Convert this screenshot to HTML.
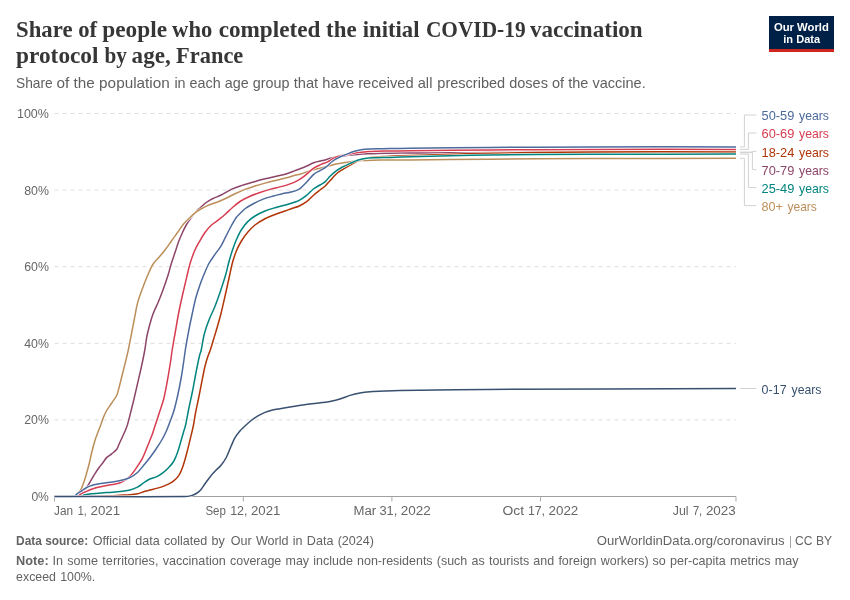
<!DOCTYPE html>
<html lang="en"><head><meta charset="utf-8"><title>Share of people who completed the initial COVID-19 vaccination protocol by age, France</title>
<style>html,body{margin:0;padding:0;background:#fff}svg{display:block}text{white-space:pre}</style></head>
<body><svg width="850" height="600" viewBox="0 0 850 600">
<rect width="850" height="600" fill="#fff"/>
<line x1="54.5" x2="736" y1="113.5" y2="113.5" stroke="#ddd" stroke-width="1" stroke-dasharray="4,4"/>
<line x1="54.5" x2="736" y1="190.1" y2="190.1" stroke="#ddd" stroke-width="1" stroke-dasharray="4,4"/>
<line x1="54.5" x2="736" y1="266.7" y2="266.7" stroke="#ddd" stroke-width="1" stroke-dasharray="4,4"/>
<line x1="54.5" x2="736" y1="343.3" y2="343.3" stroke="#ddd" stroke-width="1" stroke-dasharray="4,4"/>
<line x1="54.5" x2="736" y1="419.9" y2="419.9" stroke="#ddd" stroke-width="1" stroke-dasharray="4,4"/>
<line x1="54.5" x2="736" y1="496.5" y2="496.5" stroke="#a0a0a0" stroke-width="1"/>
<line x1="54.5" x2="54.5" y1="496.5" y2="501.5" stroke="#aaa" stroke-width="1"/>
<line x1="243.3" x2="243.3" y1="496.5" y2="501.5" stroke="#aaa" stroke-width="1"/>
<line x1="391.9" x2="391.9" y1="496.5" y2="501.5" stroke="#aaa" stroke-width="1"/>
<line x1="540.5" x2="540.5" y1="496.5" y2="501.5" stroke="#aaa" stroke-width="1"/>
<line x1="736" x2="736" y1="496.5" y2="501.5" stroke="#aaa" stroke-width="1"/>
<text x="48.9" y="117.9" font-size="13.7" fill="#666" font-family='"Liberation Sans", sans-serif' text-anchor="end" textLength="31.9" lengthAdjust="spacingAndGlyphs">100%</text>
<text x="48.9" y="194.5" font-size="13.7" fill="#666" font-family='"Liberation Sans", sans-serif' text-anchor="end" textLength="24.7" lengthAdjust="spacingAndGlyphs">80%</text>
<text x="48.9" y="271.09999999999997" font-size="13.7" fill="#666" font-family='"Liberation Sans", sans-serif' text-anchor="end" textLength="24.7" lengthAdjust="spacingAndGlyphs">60%</text>
<text x="48.9" y="347.7" font-size="13.7" fill="#666" font-family='"Liberation Sans", sans-serif' text-anchor="end" textLength="24.7" lengthAdjust="spacingAndGlyphs">40%</text>
<text x="48.9" y="424.29999999999995" font-size="13.7" fill="#666" font-family='"Liberation Sans", sans-serif' text-anchor="end" textLength="24.7" lengthAdjust="spacingAndGlyphs">20%</text>
<text x="48.9" y="500.9" font-size="13.7" fill="#666" font-family='"Liberation Sans", sans-serif' text-anchor="end" textLength="17.5" lengthAdjust="spacingAndGlyphs">0%</text>
<text y="514.8" font-size="13.7" fill="#666" font-family='"Liberation Sans", sans-serif'><tspan x="54.0" textLength="19.0" lengthAdjust="spacingAndGlyphs">Jan</tspan> <tspan x="77.8" textLength="8.9" lengthAdjust="spacingAndGlyphs">1,</tspan> <tspan x="90.5" textLength="29.6" lengthAdjust="spacingAndGlyphs">2021</tspan></text><text y="514.8" font-size="13.7" fill="#666" font-family='"Liberation Sans", sans-serif'><tspan x="205.4" textLength="20.5" lengthAdjust="spacingAndGlyphs">Sep</tspan> <tspan x="230.2" textLength="17.3" lengthAdjust="spacingAndGlyphs">12,</tspan> <tspan x="251.0" textLength="29.4" lengthAdjust="spacingAndGlyphs">2021</tspan></text><text y="514.8" font-size="13.7" fill="#666" font-family='"Liberation Sans", sans-serif'><tspan x="353.6" textLength="22.6" lengthAdjust="spacingAndGlyphs">Mar</tspan> <tspan x="379.4" textLength="17.9" lengthAdjust="spacingAndGlyphs">31,</tspan> <tspan x="400.7" textLength="30.0" lengthAdjust="spacingAndGlyphs">2022</tspan></text><text y="514.8" font-size="13.7" fill="#666" font-family='"Liberation Sans", sans-serif'><tspan x="502.4" textLength="21.6" lengthAdjust="spacingAndGlyphs">Oct</tspan> <tspan x="527.9" textLength="17.1" lengthAdjust="spacingAndGlyphs">17,</tspan> <tspan x="548.5" textLength="29.8" lengthAdjust="spacingAndGlyphs">2022</tspan></text><text y="514.8" font-size="13.7" fill="#666" font-family='"Liberation Sans", sans-serif'><tspan x="672.8" textLength="15.8" lengthAdjust="spacingAndGlyphs">Jul</tspan> <tspan x="692.9" textLength="9.3" lengthAdjust="spacingAndGlyphs">7,</tspan> <tspan x="705.9" textLength="29.9" lengthAdjust="spacingAndGlyphs">2023</tspan></text>
<path d="M54.50,496.50C61.17,496.43 67.83,496.97 74.50,496.30C75.17,496.23 75.83,494.80 76.50,494.30C78.40,492.87 80.30,491.90 82.20,490.50C83.87,489.27 85.53,488.40 87.20,486.40C88.70,484.60 90.20,481.56 91.70,479.10C92.97,477.02 94.23,474.76 95.50,472.80C96.83,470.73 98.17,468.82 99.50,467.00C100.80,465.22 102.10,463.72 103.40,462.00C104.47,460.59 105.53,458.65 106.60,457.60C108.30,455.92 110.00,455.18 111.70,453.80C113.40,452.42 115.10,451.58 116.80,449.30C117.63,448.18 118.47,445.44 119.30,443.60C120.37,441.24 121.43,439.05 122.50,436.70C123.53,434.42 124.57,432.20 125.60,429.70C126.23,428.17 126.87,426.72 127.50,424.60C128.33,421.82 129.17,418.28 130.00,415.00C131.25,410.08 132.50,405.21 133.75,400.00C135.00,394.79 136.25,389.17 137.50,383.75C138.75,378.33 140.00,373.28 141.25,367.50C142.43,362.03 143.62,356.54 144.80,350.00C145.50,346.13 146.20,339.78 146.90,336.25C147.93,331.03 148.97,327.50 150.00,323.75C151.03,320.00 152.07,316.46 153.10,313.75C154.77,309.38 156.43,306.49 158.10,302.50C159.57,298.99 161.03,295.28 162.50,291.25C164.37,286.12 166.23,280.87 168.10,275.00C169.15,271.70 170.20,267.17 171.25,263.75C172.50,259.67 173.75,256.25 175.00,252.50C176.25,248.75 177.50,244.58 178.75,241.25C180.00,237.92 181.25,235.21 182.50,232.50C183.75,229.79 185.00,227.14 186.25,225.00C187.92,222.14 189.58,219.72 191.25,217.50C193.33,214.72 195.42,212.24 197.50,210.00C198.33,209.10 199.17,208.81 200.00,208.10C202.08,206.31 204.17,204.06 206.25,202.50C208.33,200.94 210.42,199.79 212.50,198.75C215.42,197.29 218.33,196.45 221.25,195.00C224.58,193.34 227.92,190.97 231.25,189.40C234.58,187.83 237.92,186.72 241.25,185.60C245.00,184.34 248.75,183.33 252.50,182.25C256.67,181.05 260.83,179.79 265.00,178.75C269.17,177.71 273.33,176.97 277.50,176.00C280.83,175.22 284.17,174.53 287.50,173.50C290.00,172.73 292.50,171.54 295.00,170.60C296.67,169.97 298.33,169.44 300.00,168.80C302.08,167.99 304.17,167.16 306.25,166.25C308.97,165.06 311.68,163.44 314.40,162.50C317.10,161.56 319.80,161.31 322.50,160.60C325.42,159.84 328.33,158.82 331.25,158.10C334.17,157.38 337.08,156.72 340.00,156.25C342.92,155.78 345.83,155.56 348.75,155.25C351.67,154.94 354.58,154.63 357.50,154.40C360.83,154.13 364.17,153.92 367.50,153.75C370.83,153.58 374.17,153.48 377.50,153.40C381.67,153.30 385.83,153.25 390.00,153.20C396.67,153.12 403.33,153.04 410.00,153.00C423.33,152.91 436.67,152.87 450.00,152.80C463.33,152.73 476.67,152.64 490.00,152.60C523.33,152.50 556.67,152.44 590.00,152.40C638.67,152.34 687.33,152.33 736.00,152.30" fill="none" stroke="#fff" stroke-width="2.5" stroke-linejoin="round" stroke-linecap="butt"/>
<path d="M54.50,496.50C61.17,496.43 67.83,496.97 74.50,496.30C75.17,496.23 75.83,494.80 76.50,494.30C78.40,492.87 80.30,491.90 82.20,490.50C83.87,489.27 85.53,488.40 87.20,486.40C88.70,484.60 90.20,481.56 91.70,479.10C92.97,477.02 94.23,474.76 95.50,472.80C96.83,470.73 98.17,468.82 99.50,467.00C100.80,465.22 102.10,463.72 103.40,462.00C104.47,460.59 105.53,458.65 106.60,457.60C108.30,455.92 110.00,455.18 111.70,453.80C113.40,452.42 115.10,451.58 116.80,449.30C117.63,448.18 118.47,445.44 119.30,443.60C120.37,441.24 121.43,439.05 122.50,436.70C123.53,434.42 124.57,432.20 125.60,429.70C126.23,428.17 126.87,426.72 127.50,424.60C128.33,421.82 129.17,418.28 130.00,415.00C131.25,410.08 132.50,405.21 133.75,400.00C135.00,394.79 136.25,389.17 137.50,383.75C138.75,378.33 140.00,373.28 141.25,367.50C142.43,362.03 143.62,356.54 144.80,350.00C145.50,346.13 146.20,339.78 146.90,336.25C147.93,331.03 148.97,327.50 150.00,323.75C151.03,320.00 152.07,316.46 153.10,313.75C154.77,309.38 156.43,306.49 158.10,302.50C159.57,298.99 161.03,295.28 162.50,291.25C164.37,286.12 166.23,280.87 168.10,275.00C169.15,271.70 170.20,267.17 171.25,263.75C172.50,259.67 173.75,256.25 175.00,252.50C176.25,248.75 177.50,244.58 178.75,241.25C180.00,237.92 181.25,235.21 182.50,232.50C183.75,229.79 185.00,227.14 186.25,225.00C187.92,222.14 189.58,219.72 191.25,217.50C193.33,214.72 195.42,212.24 197.50,210.00C198.33,209.10 199.17,208.81 200.00,208.10C202.08,206.31 204.17,204.06 206.25,202.50C208.33,200.94 210.42,199.79 212.50,198.75C215.42,197.29 218.33,196.45 221.25,195.00C224.58,193.34 227.92,190.97 231.25,189.40C234.58,187.83 237.92,186.72 241.25,185.60C245.00,184.34 248.75,183.33 252.50,182.25C256.67,181.05 260.83,179.79 265.00,178.75C269.17,177.71 273.33,176.97 277.50,176.00C280.83,175.22 284.17,174.53 287.50,173.50C290.00,172.73 292.50,171.54 295.00,170.60C296.67,169.97 298.33,169.44 300.00,168.80C302.08,167.99 304.17,167.16 306.25,166.25C308.97,165.06 311.68,163.44 314.40,162.50C317.10,161.56 319.80,161.31 322.50,160.60C325.42,159.84 328.33,158.82 331.25,158.10C334.17,157.38 337.08,156.72 340.00,156.25C342.92,155.78 345.83,155.56 348.75,155.25C351.67,154.94 354.58,154.63 357.50,154.40C360.83,154.13 364.17,153.92 367.50,153.75C370.83,153.58 374.17,153.48 377.50,153.40C381.67,153.30 385.83,153.25 390.00,153.20C396.67,153.12 403.33,153.04 410.00,153.00C423.33,152.91 436.67,152.87 450.00,152.80C463.33,152.73 476.67,152.64 490.00,152.60C523.33,152.50 556.67,152.44 590.00,152.40C638.67,152.34 687.33,152.33 736.00,152.30" fill="none" stroke="#8C4569" stroke-width="1.5" stroke-linejoin="round" stroke-linecap="butt"/>
<path d="M54.50,496.50C61.10,496.43 67.70,497.08 74.30,496.30C75.03,496.21 75.77,494.63 76.50,493.90C77.90,492.50 79.30,491.88 80.70,489.90C81.40,488.91 82.10,486.84 82.80,485.00C83.63,482.81 84.47,480.46 85.30,477.80C86.03,475.46 86.77,472.69 87.50,470.00C88.20,467.43 88.90,464.92 89.60,462.00C90.40,458.66 91.20,454.37 92.00,451.20C93.07,446.97 94.13,443.17 95.20,439.80C96.27,436.43 97.33,433.81 98.40,431.00C99.27,428.71 100.13,426.88 101.00,424.50C101.70,422.58 102.40,419.87 103.10,418.10C104.15,415.45 105.20,413.10 106.25,411.25C107.92,408.32 109.58,406.29 111.25,403.75C113.13,400.88 115.02,398.77 116.90,395.00C117.52,393.77 118.13,391.05 118.75,388.75C119.58,385.64 120.42,382.08 121.25,378.75C122.08,375.42 122.92,372.08 123.75,368.75C124.58,365.42 125.42,362.18 126.25,358.75C126.93,355.93 127.62,353.25 128.30,350.00C129.28,345.33 130.27,340.04 131.25,335.00C132.30,329.62 133.35,324.11 134.40,318.75C135.43,313.48 136.47,307.06 137.50,303.10C138.97,297.48 140.43,294.00 141.90,290.00C143.87,284.63 145.83,279.64 147.80,275.00C149.37,271.31 150.93,267.50 152.50,265.00C154.58,261.67 156.67,260.00 158.75,257.50C160.83,255.00 162.92,252.71 165.00,250.00C167.08,247.29 169.17,244.17 171.25,241.25C173.33,238.33 175.42,235.42 177.50,232.50C179.58,229.58 181.67,226.25 183.75,223.75C185.83,221.25 187.92,219.47 190.00,217.50C192.08,215.53 194.17,213.57 196.25,211.90C197.50,210.90 198.75,210.20 200.00,209.50C202.50,208.10 205.00,206.68 207.50,205.60C210.42,204.34 213.33,203.64 216.25,202.50C219.17,201.36 222.08,200.11 225.00,198.75C228.33,197.19 231.67,195.31 235.00,193.75C238.33,192.19 241.67,190.69 245.00,189.40C248.33,188.11 251.67,187.05 255.00,186.00C258.33,184.95 261.67,183.99 265.00,183.10C269.17,181.99 273.33,181.04 277.50,180.00C280.83,179.17 284.17,178.40 287.50,177.50C290.00,176.82 292.50,175.91 295.00,175.25C296.67,174.81 298.33,174.68 300.00,174.20C302.92,173.35 305.83,172.16 308.75,171.25C311.67,170.34 314.58,169.53 317.50,168.75C320.83,167.86 324.17,167.09 327.50,166.25C330.42,165.51 333.33,164.62 336.25,164.00C339.17,163.38 342.08,162.96 345.00,162.50C347.92,162.04 350.83,161.57 353.75,161.25C356.67,160.93 359.58,160.76 362.50,160.60C365.83,160.42 369.17,160.32 372.50,160.25C378.33,160.12 384.17,160.04 390.00,160.00C396.67,159.96 403.33,160.05 410.00,160.00C436.67,159.79 463.33,159.41 490.00,159.20C523.33,158.94 556.67,158.72 590.00,158.60C638.67,158.42 687.33,158.40 736.00,158.30" fill="none" stroke="#fff" stroke-width="2.5" stroke-linejoin="round" stroke-linecap="butt"/>
<path d="M54.50,496.50C61.10,496.43 67.70,497.08 74.30,496.30C75.03,496.21 75.77,494.63 76.50,493.90C77.90,492.50 79.30,491.88 80.70,489.90C81.40,488.91 82.10,486.84 82.80,485.00C83.63,482.81 84.47,480.46 85.30,477.80C86.03,475.46 86.77,472.69 87.50,470.00C88.20,467.43 88.90,464.92 89.60,462.00C90.40,458.66 91.20,454.37 92.00,451.20C93.07,446.97 94.13,443.17 95.20,439.80C96.27,436.43 97.33,433.81 98.40,431.00C99.27,428.71 100.13,426.88 101.00,424.50C101.70,422.58 102.40,419.87 103.10,418.10C104.15,415.45 105.20,413.10 106.25,411.25C107.92,408.32 109.58,406.29 111.25,403.75C113.13,400.88 115.02,398.77 116.90,395.00C117.52,393.77 118.13,391.05 118.75,388.75C119.58,385.64 120.42,382.08 121.25,378.75C122.08,375.42 122.92,372.08 123.75,368.75C124.58,365.42 125.42,362.18 126.25,358.75C126.93,355.93 127.62,353.25 128.30,350.00C129.28,345.33 130.27,340.04 131.25,335.00C132.30,329.62 133.35,324.11 134.40,318.75C135.43,313.48 136.47,307.06 137.50,303.10C138.97,297.48 140.43,294.00 141.90,290.00C143.87,284.63 145.83,279.64 147.80,275.00C149.37,271.31 150.93,267.50 152.50,265.00C154.58,261.67 156.67,260.00 158.75,257.50C160.83,255.00 162.92,252.71 165.00,250.00C167.08,247.29 169.17,244.17 171.25,241.25C173.33,238.33 175.42,235.42 177.50,232.50C179.58,229.58 181.67,226.25 183.75,223.75C185.83,221.25 187.92,219.47 190.00,217.50C192.08,215.53 194.17,213.57 196.25,211.90C197.50,210.90 198.75,210.20 200.00,209.50C202.50,208.10 205.00,206.68 207.50,205.60C210.42,204.34 213.33,203.64 216.25,202.50C219.17,201.36 222.08,200.11 225.00,198.75C228.33,197.19 231.67,195.31 235.00,193.75C238.33,192.19 241.67,190.69 245.00,189.40C248.33,188.11 251.67,187.05 255.00,186.00C258.33,184.95 261.67,183.99 265.00,183.10C269.17,181.99 273.33,181.04 277.50,180.00C280.83,179.17 284.17,178.40 287.50,177.50C290.00,176.82 292.50,175.91 295.00,175.25C296.67,174.81 298.33,174.68 300.00,174.20C302.92,173.35 305.83,172.16 308.75,171.25C311.67,170.34 314.58,169.53 317.50,168.75C320.83,167.86 324.17,167.09 327.50,166.25C330.42,165.51 333.33,164.62 336.25,164.00C339.17,163.38 342.08,162.96 345.00,162.50C347.92,162.04 350.83,161.57 353.75,161.25C356.67,160.93 359.58,160.76 362.50,160.60C365.83,160.42 369.17,160.32 372.50,160.25C378.33,160.12 384.17,160.04 390.00,160.00C396.67,159.96 403.33,160.05 410.00,160.00C436.67,159.79 463.33,159.41 490.00,159.20C523.33,158.94 556.67,158.72 590.00,158.60C638.67,158.42 687.33,158.40 736.00,158.30" fill="none" stroke="#BC8E5A" stroke-width="1.5" stroke-linejoin="round" stroke-linecap="butt"/>
<path d="M54.50,496.50C68.00,496.43 81.50,496.47 95.00,496.30C100.00,496.24 105.00,496.01 110.00,495.80C113.33,495.66 116.67,495.43 120.00,495.25C123.33,495.07 126.67,495.04 130.00,494.75C132.50,494.54 135.00,494.33 137.50,493.75C140.00,493.17 142.50,492.00 145.00,491.25C146.67,490.75 148.33,490.42 150.00,490.00C152.50,489.37 155.00,488.83 157.50,488.10C160.00,487.37 162.50,486.63 165.00,485.60C167.50,484.57 170.00,483.72 172.50,481.90C174.58,480.38 176.67,478.60 178.75,475.60C180.00,473.80 181.25,470.93 182.50,467.50C183.75,464.07 185.00,459.58 186.25,455.00C187.50,450.42 188.75,445.17 190.00,440.00C191.17,435.17 192.33,430.73 193.50,425.00C194.20,421.56 194.90,416.17 195.60,412.50C196.65,407.00 197.70,402.71 198.75,397.50C199.80,392.29 200.85,386.50 201.90,381.25C202.93,376.08 203.97,370.63 205.00,366.25C205.83,362.72 206.67,360.06 207.50,357.50C208.43,354.64 209.37,352.80 210.30,350.00C211.45,346.55 212.60,342.54 213.75,338.75C215.00,334.63 216.25,330.62 217.50,326.25C218.75,321.88 220.00,317.50 221.25,312.50C222.50,307.50 223.75,301.80 225.00,296.25C226.57,289.30 228.13,282.05 229.70,275.00C230.63,270.80 231.57,265.88 232.50,262.50C233.75,257.97 235.00,254.29 236.25,251.25C237.92,247.20 239.58,244.03 241.25,241.25C243.33,237.78 245.42,234.96 247.50,232.50C250.00,229.55 252.50,226.96 255.00,225.00C258.33,222.38 261.67,220.50 265.00,218.75C268.33,217.00 271.67,215.79 275.00,214.50C278.33,213.21 281.67,212.18 285.00,211.00C287.50,210.11 290.00,209.16 292.50,208.30C294.58,207.58 296.67,207.22 298.75,206.25C301.25,205.09 303.75,203.78 306.25,201.90C308.75,200.03 311.25,197.16 313.75,195.00C315.83,193.20 317.92,191.62 320.00,190.00C321.67,188.70 323.33,187.80 325.00,186.25C326.67,184.70 328.33,182.51 330.00,180.70C332.08,178.43 334.17,175.85 336.25,174.00C338.33,172.15 340.42,170.93 342.50,169.60C345.00,168.00 347.50,166.62 350.00,165.20C352.50,163.78 355.00,162.20 357.50,161.10C360.00,160.00 362.50,159.23 365.00,158.60C367.50,157.97 370.00,157.59 372.50,157.30C375.83,156.92 379.17,156.81 382.50,156.60C385.00,156.44 387.50,156.30 390.00,156.20C396.67,155.93 403.33,155.72 410.00,155.50C423.33,155.06 436.67,154.58 450.00,154.20C463.33,153.82 476.67,153.41 490.00,153.20C523.33,152.68 556.67,152.18 590.00,152.00C638.67,151.74 687.33,151.93 736.00,151.90" fill="none" stroke="#fff" stroke-width="2.5" stroke-linejoin="round" stroke-linecap="butt"/>
<path d="M54.50,496.50C68.00,496.43 81.50,496.47 95.00,496.30C100.00,496.24 105.00,496.01 110.00,495.80C113.33,495.66 116.67,495.43 120.00,495.25C123.33,495.07 126.67,495.04 130.00,494.75C132.50,494.54 135.00,494.33 137.50,493.75C140.00,493.17 142.50,492.00 145.00,491.25C146.67,490.75 148.33,490.42 150.00,490.00C152.50,489.37 155.00,488.83 157.50,488.10C160.00,487.37 162.50,486.63 165.00,485.60C167.50,484.57 170.00,483.72 172.50,481.90C174.58,480.38 176.67,478.60 178.75,475.60C180.00,473.80 181.25,470.93 182.50,467.50C183.75,464.07 185.00,459.58 186.25,455.00C187.50,450.42 188.75,445.17 190.00,440.00C191.17,435.17 192.33,430.73 193.50,425.00C194.20,421.56 194.90,416.17 195.60,412.50C196.65,407.00 197.70,402.71 198.75,397.50C199.80,392.29 200.85,386.50 201.90,381.25C202.93,376.08 203.97,370.63 205.00,366.25C205.83,362.72 206.67,360.06 207.50,357.50C208.43,354.64 209.37,352.80 210.30,350.00C211.45,346.55 212.60,342.54 213.75,338.75C215.00,334.63 216.25,330.62 217.50,326.25C218.75,321.88 220.00,317.50 221.25,312.50C222.50,307.50 223.75,301.80 225.00,296.25C226.57,289.30 228.13,282.05 229.70,275.00C230.63,270.80 231.57,265.88 232.50,262.50C233.75,257.97 235.00,254.29 236.25,251.25C237.92,247.20 239.58,244.03 241.25,241.25C243.33,237.78 245.42,234.96 247.50,232.50C250.00,229.55 252.50,226.96 255.00,225.00C258.33,222.38 261.67,220.50 265.00,218.75C268.33,217.00 271.67,215.79 275.00,214.50C278.33,213.21 281.67,212.18 285.00,211.00C287.50,210.11 290.00,209.16 292.50,208.30C294.58,207.58 296.67,207.22 298.75,206.25C301.25,205.09 303.75,203.78 306.25,201.90C308.75,200.03 311.25,197.16 313.75,195.00C315.83,193.20 317.92,191.62 320.00,190.00C321.67,188.70 323.33,187.80 325.00,186.25C326.67,184.70 328.33,182.51 330.00,180.70C332.08,178.43 334.17,175.85 336.25,174.00C338.33,172.15 340.42,170.93 342.50,169.60C345.00,168.00 347.50,166.62 350.00,165.20C352.50,163.78 355.00,162.20 357.50,161.10C360.00,160.00 362.50,159.23 365.00,158.60C367.50,157.97 370.00,157.59 372.50,157.30C375.83,156.92 379.17,156.81 382.50,156.60C385.00,156.44 387.50,156.30 390.00,156.20C396.67,155.93 403.33,155.72 410.00,155.50C423.33,155.06 436.67,154.58 450.00,154.20C463.33,153.82 476.67,153.41 490.00,153.20C523.33,152.68 556.67,152.18 590.00,152.00C638.67,151.74 687.33,151.93 736.00,151.90" fill="none" stroke="#B13507" stroke-width="1.5" stroke-linejoin="round" stroke-linecap="butt"/>
<path d="M54.50,496.50C63.00,496.43 71.50,496.70 80.00,496.30C81.33,496.24 82.67,495.38 84.00,495.10C86.57,494.55 89.13,494.13 91.70,493.80C94.87,493.39 98.03,493.13 101.20,492.90C104.97,492.63 108.73,492.59 112.50,492.30C115.83,492.04 119.17,491.69 122.50,491.25C125.00,490.92 127.50,490.69 130.00,490.00C132.50,489.31 135.00,488.45 137.50,487.10C140.00,485.75 142.50,483.52 145.00,481.90C146.67,480.82 148.33,479.74 150.00,479.00C152.08,478.07 154.17,477.88 156.25,476.90C158.33,475.92 160.42,474.67 162.50,473.10C164.58,471.53 166.67,469.69 168.75,467.50C170.42,465.74 172.08,464.11 173.75,461.25C175.00,459.11 176.25,456.04 177.50,452.50C178.75,448.96 180.00,444.25 181.25,440.00C182.08,437.17 182.92,434.12 183.75,431.25C184.37,429.12 184.98,427.77 185.60,425.00C186.65,420.27 187.70,413.89 188.75,408.75C190.00,402.64 191.25,397.50 192.50,391.25C193.75,385.00 195.00,377.59 196.25,371.25C197.30,365.92 198.35,360.71 199.40,356.25C200.02,353.63 200.63,352.84 201.25,350.00C202.08,346.17 202.92,340.00 203.75,336.25C204.58,332.50 205.42,330.00 206.25,327.50C207.50,323.75 208.75,320.54 210.00,317.50C211.67,313.45 213.33,310.42 215.00,306.25C216.67,302.08 218.33,297.41 220.00,292.50C221.87,287.00 223.73,281.40 225.60,275.00C226.65,271.40 227.70,266.30 228.75,262.50C230.00,257.97 231.25,253.75 232.50,250.00C233.75,246.25 235.00,242.86 236.25,240.00C237.92,236.19 239.58,232.68 241.25,230.00C243.33,226.65 245.42,224.02 247.50,221.90C250.00,219.35 252.50,217.56 255.00,216.00C258.33,213.92 261.67,212.35 265.00,211.00C268.67,209.52 272.33,208.58 276.00,207.50C280.00,206.32 284.00,205.36 288.00,204.20C290.33,203.52 292.67,202.78 295.00,202.00C296.25,201.58 297.50,201.31 298.75,200.60C301.25,199.18 303.75,197.57 306.25,195.60C308.75,193.62 311.25,190.68 313.75,188.75C315.83,187.14 317.92,186.27 320.00,185.00C321.67,183.99 323.33,183.35 325.00,181.90C326.67,180.45 328.33,177.93 330.00,176.30C332.08,174.26 334.17,172.45 336.25,170.90C338.33,169.35 340.42,168.12 342.50,167.00C345.00,165.65 347.50,164.63 350.00,163.50C352.50,162.37 355.00,161.05 357.50,160.20C360.00,159.35 362.50,158.75 365.00,158.40C368.33,157.93 371.67,157.88 375.00,157.75C380.00,157.55 385.00,157.54 390.00,157.40C396.67,157.21 403.33,156.91 410.00,156.75C436.67,156.11 463.33,155.36 490.00,155.00C523.33,154.56 556.67,154.49 590.00,154.35C638.67,154.15 687.33,154.12 736.00,154.00" fill="none" stroke="#fff" stroke-width="2.5" stroke-linejoin="round" stroke-linecap="butt"/>
<path d="M54.50,496.50C63.00,496.43 71.50,496.70 80.00,496.30C81.33,496.24 82.67,495.38 84.00,495.10C86.57,494.55 89.13,494.13 91.70,493.80C94.87,493.39 98.03,493.13 101.20,492.90C104.97,492.63 108.73,492.59 112.50,492.30C115.83,492.04 119.17,491.69 122.50,491.25C125.00,490.92 127.50,490.69 130.00,490.00C132.50,489.31 135.00,488.45 137.50,487.10C140.00,485.75 142.50,483.52 145.00,481.90C146.67,480.82 148.33,479.74 150.00,479.00C152.08,478.07 154.17,477.88 156.25,476.90C158.33,475.92 160.42,474.67 162.50,473.10C164.58,471.53 166.67,469.69 168.75,467.50C170.42,465.74 172.08,464.11 173.75,461.25C175.00,459.11 176.25,456.04 177.50,452.50C178.75,448.96 180.00,444.25 181.25,440.00C182.08,437.17 182.92,434.12 183.75,431.25C184.37,429.12 184.98,427.77 185.60,425.00C186.65,420.27 187.70,413.89 188.75,408.75C190.00,402.64 191.25,397.50 192.50,391.25C193.75,385.00 195.00,377.59 196.25,371.25C197.30,365.92 198.35,360.71 199.40,356.25C200.02,353.63 200.63,352.84 201.25,350.00C202.08,346.17 202.92,340.00 203.75,336.25C204.58,332.50 205.42,330.00 206.25,327.50C207.50,323.75 208.75,320.54 210.00,317.50C211.67,313.45 213.33,310.42 215.00,306.25C216.67,302.08 218.33,297.41 220.00,292.50C221.87,287.00 223.73,281.40 225.60,275.00C226.65,271.40 227.70,266.30 228.75,262.50C230.00,257.97 231.25,253.75 232.50,250.00C233.75,246.25 235.00,242.86 236.25,240.00C237.92,236.19 239.58,232.68 241.25,230.00C243.33,226.65 245.42,224.02 247.50,221.90C250.00,219.35 252.50,217.56 255.00,216.00C258.33,213.92 261.67,212.35 265.00,211.00C268.67,209.52 272.33,208.58 276.00,207.50C280.00,206.32 284.00,205.36 288.00,204.20C290.33,203.52 292.67,202.78 295.00,202.00C296.25,201.58 297.50,201.31 298.75,200.60C301.25,199.18 303.75,197.57 306.25,195.60C308.75,193.62 311.25,190.68 313.75,188.75C315.83,187.14 317.92,186.27 320.00,185.00C321.67,183.99 323.33,183.35 325.00,181.90C326.67,180.45 328.33,177.93 330.00,176.30C332.08,174.26 334.17,172.45 336.25,170.90C338.33,169.35 340.42,168.12 342.50,167.00C345.00,165.65 347.50,164.63 350.00,163.50C352.50,162.37 355.00,161.05 357.50,160.20C360.00,159.35 362.50,158.75 365.00,158.40C368.33,157.93 371.67,157.88 375.00,157.75C380.00,157.55 385.00,157.54 390.00,157.40C396.67,157.21 403.33,156.91 410.00,156.75C436.67,156.11 463.33,155.36 490.00,155.00C523.33,154.56 556.67,154.49 590.00,154.35C638.67,154.15 687.33,154.12 736.00,154.00" fill="none" stroke="#00847E" stroke-width="1.5" stroke-linejoin="round" stroke-linecap="butt"/>
<path d="M54.50,496.50C62.17,496.43 69.83,496.95 77.50,496.30C78.43,496.22 79.37,494.85 80.30,494.30C81.70,493.48 83.10,492.85 84.50,492.20C85.83,491.58 87.17,491.05 88.50,490.50C90.00,489.88 91.50,489.21 93.00,488.70C94.67,488.14 96.33,487.71 98.00,487.30C100.00,486.81 102.00,486.39 104.00,486.00C106.83,485.45 109.67,485.08 112.50,484.50C115.00,483.99 117.50,483.68 120.00,482.75C122.08,481.98 124.17,480.84 126.25,479.40C127.92,478.25 129.58,476.95 131.25,475.00C133.33,472.56 135.42,469.38 137.50,466.25C139.17,463.75 140.83,461.43 142.50,458.10C144.17,454.77 145.83,450.27 147.50,446.25C148.33,444.24 149.17,442.08 150.00,440.00C150.83,437.92 151.67,436.11 152.50,433.75C153.43,431.11 154.37,427.87 155.30,425.00C156.67,420.79 158.03,416.75 159.40,412.50C160.85,408.00 162.30,404.57 163.75,398.75C165.00,393.73 166.25,386.84 167.50,380.00C168.53,374.34 169.57,367.85 170.60,361.25C171.13,357.85 171.67,353.33 172.20,350.00C173.13,344.17 174.07,339.09 175.00,333.75C176.25,326.59 177.50,318.96 178.75,312.50C180.00,306.04 181.25,300.55 182.50,295.00C184.07,288.05 185.63,281.53 187.20,275.00C188.13,271.11 189.07,266.83 190.00,263.75C191.47,258.91 192.93,254.65 194.40,251.25C196.27,246.93 198.13,243.90 200.00,240.60C201.67,237.65 203.33,234.77 205.00,232.50C207.08,229.67 209.17,227.24 211.25,225.30C213.75,222.97 216.25,221.67 218.75,219.70C221.03,217.90 223.32,216.03 225.60,214.00C227.90,211.96 230.20,209.50 232.50,207.50C235.00,205.33 237.50,203.11 240.00,201.50C243.33,199.36 246.67,197.75 250.00,196.25C253.33,194.75 256.67,193.64 260.00,192.50C263.33,191.36 266.67,190.33 270.00,189.40C273.33,188.47 276.67,187.79 280.00,186.90C282.92,186.12 285.83,185.45 288.75,184.40C291.67,183.35 294.58,182.18 297.50,180.60C300.00,179.25 302.50,177.52 305.00,175.60C307.92,173.36 310.83,170.11 313.75,168.10C316.25,166.38 318.75,165.53 321.25,164.40C323.33,163.46 325.42,162.95 327.50,161.90C329.58,160.85 331.67,159.05 333.75,158.10C336.25,156.95 338.75,156.22 341.25,155.60C343.75,154.98 346.25,154.88 348.75,154.40C351.67,153.84 354.58,152.94 357.50,152.50C360.83,152.00 364.17,151.81 367.50,151.60C370.83,151.39 374.17,151.34 377.50,151.25C381.67,151.14 385.83,151.06 390.00,151.00C396.67,150.91 403.33,150.87 410.00,150.80C436.67,150.53 463.33,150.21 490.00,150.00C523.33,149.74 556.67,149.48 590.00,149.40C638.67,149.28 687.33,149.40 736.00,149.40" fill="none" stroke="#fff" stroke-width="2.5" stroke-linejoin="round" stroke-linecap="butt"/>
<path d="M54.50,496.50C62.17,496.43 69.83,496.95 77.50,496.30C78.43,496.22 79.37,494.85 80.30,494.30C81.70,493.48 83.10,492.85 84.50,492.20C85.83,491.58 87.17,491.05 88.50,490.50C90.00,489.88 91.50,489.21 93.00,488.70C94.67,488.14 96.33,487.71 98.00,487.30C100.00,486.81 102.00,486.39 104.00,486.00C106.83,485.45 109.67,485.08 112.50,484.50C115.00,483.99 117.50,483.68 120.00,482.75C122.08,481.98 124.17,480.84 126.25,479.40C127.92,478.25 129.58,476.95 131.25,475.00C133.33,472.56 135.42,469.38 137.50,466.25C139.17,463.75 140.83,461.43 142.50,458.10C144.17,454.77 145.83,450.27 147.50,446.25C148.33,444.24 149.17,442.08 150.00,440.00C150.83,437.92 151.67,436.11 152.50,433.75C153.43,431.11 154.37,427.87 155.30,425.00C156.67,420.79 158.03,416.75 159.40,412.50C160.85,408.00 162.30,404.57 163.75,398.75C165.00,393.73 166.25,386.84 167.50,380.00C168.53,374.34 169.57,367.85 170.60,361.25C171.13,357.85 171.67,353.33 172.20,350.00C173.13,344.17 174.07,339.09 175.00,333.75C176.25,326.59 177.50,318.96 178.75,312.50C180.00,306.04 181.25,300.55 182.50,295.00C184.07,288.05 185.63,281.53 187.20,275.00C188.13,271.11 189.07,266.83 190.00,263.75C191.47,258.91 192.93,254.65 194.40,251.25C196.27,246.93 198.13,243.90 200.00,240.60C201.67,237.65 203.33,234.77 205.00,232.50C207.08,229.67 209.17,227.24 211.25,225.30C213.75,222.97 216.25,221.67 218.75,219.70C221.03,217.90 223.32,216.03 225.60,214.00C227.90,211.96 230.20,209.50 232.50,207.50C235.00,205.33 237.50,203.11 240.00,201.50C243.33,199.36 246.67,197.75 250.00,196.25C253.33,194.75 256.67,193.64 260.00,192.50C263.33,191.36 266.67,190.33 270.00,189.40C273.33,188.47 276.67,187.79 280.00,186.90C282.92,186.12 285.83,185.45 288.75,184.40C291.67,183.35 294.58,182.18 297.50,180.60C300.00,179.25 302.50,177.52 305.00,175.60C307.92,173.36 310.83,170.11 313.75,168.10C316.25,166.38 318.75,165.53 321.25,164.40C323.33,163.46 325.42,162.95 327.50,161.90C329.58,160.85 331.67,159.05 333.75,158.10C336.25,156.95 338.75,156.22 341.25,155.60C343.75,154.98 346.25,154.88 348.75,154.40C351.67,153.84 354.58,152.94 357.50,152.50C360.83,152.00 364.17,151.81 367.50,151.60C370.83,151.39 374.17,151.34 377.50,151.25C381.67,151.14 385.83,151.06 390.00,151.00C396.67,150.91 403.33,150.87 410.00,150.80C436.67,150.53 463.33,150.21 490.00,150.00C523.33,149.74 556.67,149.48 590.00,149.40C638.67,149.28 687.33,149.40 736.00,149.40" fill="none" stroke="#D73C50" stroke-width="1.5" stroke-linejoin="round" stroke-linecap="butt"/>
<path d="M54.50,496.50C61.17,496.43 67.83,496.97 74.50,496.30C75.17,496.23 75.83,494.80 76.50,494.30C78.40,492.87 80.30,491.76 82.20,490.50C83.47,489.66 84.73,488.73 86.00,488.00C87.27,487.27 88.53,486.62 89.80,486.10C91.20,485.52 92.60,485.08 94.00,484.70C95.33,484.34 96.67,484.12 98.00,483.90C100.33,483.52 102.67,483.21 105.00,482.90C107.50,482.57 110.00,482.41 112.50,482.00C115.83,481.45 119.17,480.86 122.50,480.00C125.00,479.36 127.50,478.75 130.00,477.50C132.50,476.25 135.00,474.79 137.50,472.50C140.00,470.21 142.50,466.75 145.00,463.75C146.67,461.75 148.33,459.72 150.00,457.50C152.08,454.72 154.17,451.88 156.25,448.75C158.33,445.62 160.42,442.40 162.50,438.75C163.75,436.56 165.00,434.00 166.25,431.25C167.08,429.42 167.92,427.22 168.75,425.00C170.42,420.56 172.08,416.73 173.75,411.25C175.00,407.14 176.25,401.88 177.50,396.25C178.75,390.62 180.00,384.50 181.25,377.50C182.08,372.83 182.92,366.91 183.75,361.25C184.27,357.74 184.78,353.17 185.30,350.00C186.45,342.95 187.60,336.59 188.75,330.60C190.00,324.09 191.25,318.29 192.50,312.50C193.63,307.25 194.77,301.70 195.90,297.50C197.27,292.43 198.63,288.62 200.00,284.70C201.25,281.12 202.50,277.99 203.75,275.00C205.42,271.01 207.08,266.80 208.75,263.75C210.83,259.94 212.92,257.43 215.00,254.40C217.08,251.38 219.17,249.08 221.25,245.60C222.92,242.81 224.58,238.87 226.25,235.60C227.92,232.33 229.58,229.02 231.25,226.00C232.92,222.98 234.58,219.88 236.25,217.50C237.50,215.71 238.75,214.75 240.00,213.50C241.67,211.83 243.33,210.04 245.00,208.75C247.00,207.20 249.00,206.08 251.00,205.00C254.67,203.03 258.33,201.09 262.00,199.60C265.50,198.18 269.00,197.25 272.50,196.25C275.83,195.30 279.17,194.52 282.50,193.75C285.00,193.17 287.50,192.87 290.00,192.20C292.92,191.42 295.83,191.14 298.75,189.40C301.25,187.91 303.75,185.00 306.25,182.50C308.75,180.00 311.25,176.56 313.75,174.40C315.83,172.60 317.92,171.85 320.00,170.60C322.08,169.35 324.17,168.46 326.25,166.90C328.33,165.34 330.42,162.82 332.50,161.25C334.58,159.68 336.67,158.54 338.75,157.50C341.25,156.25 343.75,155.40 346.25,154.40C348.75,153.40 351.25,152.28 353.75,151.50C356.25,150.72 358.75,150.13 361.25,149.75C364.17,149.30 367.08,149.16 370.00,149.00C373.33,148.82 376.67,148.83 380.00,148.75C383.33,148.67 386.67,148.55 390.00,148.50C396.67,148.40 403.33,148.37 410.00,148.30C436.67,148.03 463.33,147.71 490.00,147.50C523.33,147.24 556.67,146.98 590.00,146.90C638.67,146.78 687.33,146.90 736.00,146.90" fill="none" stroke="#fff" stroke-width="2.5" stroke-linejoin="round" stroke-linecap="butt"/>
<path d="M54.50,496.50C61.17,496.43 67.83,496.97 74.50,496.30C75.17,496.23 75.83,494.80 76.50,494.30C78.40,492.87 80.30,491.76 82.20,490.50C83.47,489.66 84.73,488.73 86.00,488.00C87.27,487.27 88.53,486.62 89.80,486.10C91.20,485.52 92.60,485.08 94.00,484.70C95.33,484.34 96.67,484.12 98.00,483.90C100.33,483.52 102.67,483.21 105.00,482.90C107.50,482.57 110.00,482.41 112.50,482.00C115.83,481.45 119.17,480.86 122.50,480.00C125.00,479.36 127.50,478.75 130.00,477.50C132.50,476.25 135.00,474.79 137.50,472.50C140.00,470.21 142.50,466.75 145.00,463.75C146.67,461.75 148.33,459.72 150.00,457.50C152.08,454.72 154.17,451.88 156.25,448.75C158.33,445.62 160.42,442.40 162.50,438.75C163.75,436.56 165.00,434.00 166.25,431.25C167.08,429.42 167.92,427.22 168.75,425.00C170.42,420.56 172.08,416.73 173.75,411.25C175.00,407.14 176.25,401.88 177.50,396.25C178.75,390.62 180.00,384.50 181.25,377.50C182.08,372.83 182.92,366.91 183.75,361.25C184.27,357.74 184.78,353.17 185.30,350.00C186.45,342.95 187.60,336.59 188.75,330.60C190.00,324.09 191.25,318.29 192.50,312.50C193.63,307.25 194.77,301.70 195.90,297.50C197.27,292.43 198.63,288.62 200.00,284.70C201.25,281.12 202.50,277.99 203.75,275.00C205.42,271.01 207.08,266.80 208.75,263.75C210.83,259.94 212.92,257.43 215.00,254.40C217.08,251.38 219.17,249.08 221.25,245.60C222.92,242.81 224.58,238.87 226.25,235.60C227.92,232.33 229.58,229.02 231.25,226.00C232.92,222.98 234.58,219.88 236.25,217.50C237.50,215.71 238.75,214.75 240.00,213.50C241.67,211.83 243.33,210.04 245.00,208.75C247.00,207.20 249.00,206.08 251.00,205.00C254.67,203.03 258.33,201.09 262.00,199.60C265.50,198.18 269.00,197.25 272.50,196.25C275.83,195.30 279.17,194.52 282.50,193.75C285.00,193.17 287.50,192.87 290.00,192.20C292.92,191.42 295.83,191.14 298.75,189.40C301.25,187.91 303.75,185.00 306.25,182.50C308.75,180.00 311.25,176.56 313.75,174.40C315.83,172.60 317.92,171.85 320.00,170.60C322.08,169.35 324.17,168.46 326.25,166.90C328.33,165.34 330.42,162.82 332.50,161.25C334.58,159.68 336.67,158.54 338.75,157.50C341.25,156.25 343.75,155.40 346.25,154.40C348.75,153.40 351.25,152.28 353.75,151.50C356.25,150.72 358.75,150.13 361.25,149.75C364.17,149.30 367.08,149.16 370.00,149.00C373.33,148.82 376.67,148.83 380.00,148.75C383.33,148.67 386.67,148.55 390.00,148.50C396.67,148.40 403.33,148.37 410.00,148.30C436.67,148.03 463.33,147.71 490.00,147.50C523.33,147.24 556.67,146.98 590.00,146.90C638.67,146.78 687.33,146.90 736.00,146.90" fill="none" stroke="#4C6A9C" stroke-width="1.5" stroke-linejoin="round" stroke-linecap="butt"/>
<path d="M54.50,496.50C98.00,496.50 141.50,496.79 185.00,496.50C187.08,496.49 189.17,496.16 191.25,495.60C192.92,495.16 194.58,494.50 196.25,493.50C197.70,492.63 199.15,491.62 200.60,490.00C202.07,488.37 203.53,485.79 205.00,483.75C206.67,481.43 208.33,478.94 210.00,476.90C212.08,474.35 214.17,472.20 216.25,470.00C217.92,468.24 219.58,467.08 221.25,465.00C222.92,462.92 224.58,460.70 226.25,457.50C227.92,454.30 229.58,449.57 231.25,445.80C232.50,442.97 233.75,439.87 235.00,437.70C236.50,435.10 238.00,433.24 239.50,431.50C241.50,429.18 243.50,427.38 245.50,425.50C247.50,423.62 249.50,421.82 251.50,420.25C253.50,418.68 255.50,417.26 257.50,416.10C260.00,414.65 262.50,413.40 265.00,412.40C267.50,411.40 270.00,410.72 272.50,410.10C275.00,409.48 277.50,409.14 280.00,408.70C283.33,408.11 286.67,407.53 290.00,407.00C295.33,406.16 300.67,405.33 306.00,404.60C311.33,403.87 316.67,403.31 322.00,402.60C324.67,402.24 327.33,401.93 330.00,401.40C333.33,400.73 336.67,400.00 340.00,399.00C343.33,398.00 346.67,396.40 350.00,395.40C353.33,394.40 356.67,393.60 360.00,393.00C363.33,392.40 366.67,392.06 370.00,391.80C375.33,391.39 380.67,391.21 386.00,391.00C390.67,390.81 395.33,390.67 400.00,390.60C428.67,390.14 457.33,389.58 486.00,389.40C569.33,388.88 652.67,388.80 736.00,388.50" fill="none" stroke="#fff" stroke-width="2.5" stroke-linejoin="round" stroke-linecap="butt"/>
<path d="M54.50,496.50C98.00,496.50 141.50,496.79 185.00,496.50C187.08,496.49 189.17,496.16 191.25,495.60C192.92,495.16 194.58,494.50 196.25,493.50C197.70,492.63 199.15,491.62 200.60,490.00C202.07,488.37 203.53,485.79 205.00,483.75C206.67,481.43 208.33,478.94 210.00,476.90C212.08,474.35 214.17,472.20 216.25,470.00C217.92,468.24 219.58,467.08 221.25,465.00C222.92,462.92 224.58,460.70 226.25,457.50C227.92,454.30 229.58,449.57 231.25,445.80C232.50,442.97 233.75,439.87 235.00,437.70C236.50,435.10 238.00,433.24 239.50,431.50C241.50,429.18 243.50,427.38 245.50,425.50C247.50,423.62 249.50,421.82 251.50,420.25C253.50,418.68 255.50,417.26 257.50,416.10C260.00,414.65 262.50,413.40 265.00,412.40C267.50,411.40 270.00,410.72 272.50,410.10C275.00,409.48 277.50,409.14 280.00,408.70C283.33,408.11 286.67,407.53 290.00,407.00C295.33,406.16 300.67,405.33 306.00,404.60C311.33,403.87 316.67,403.31 322.00,402.60C324.67,402.24 327.33,401.93 330.00,401.40C333.33,400.73 336.67,400.00 340.00,399.00C343.33,398.00 346.67,396.40 350.00,395.40C353.33,394.40 356.67,393.60 360.00,393.00C363.33,392.40 366.67,392.06 370.00,391.80C375.33,391.39 380.67,391.21 386.00,391.00C390.67,390.81 395.33,390.67 400.00,390.60C428.67,390.14 457.33,389.58 486.00,389.40C569.33,388.88 652.67,388.80 736.00,388.50" fill="none" stroke="#38506F" stroke-width="1.5" stroke-linejoin="round" stroke-linecap="butt"/>
<path d="M740,146.9H744.4V115H756.4" stroke="#d2d2d2" stroke-width="1" fill="none"/>
<path d="M740,149.4H748.4V133H756.4" stroke="#d2d2d2" stroke-width="1" fill="none"/>
<path d="M740,152.1H752.4V151.4H756.4" stroke="#d2d2d2" stroke-width="1" fill="none"/>
<path d="M740,152.6H752.4V169.6H756.4" stroke="#d2d2d2" stroke-width="1" fill="none"/>
<path d="M740,154H748.4V187.6H756.4" stroke="#d2d2d2" stroke-width="1" fill="none"/>
<path d="M740,158.3H744.4V205.6H756.4" stroke="#d2d2d2" stroke-width="1" fill="none"/>
<path d="M740,388.5H756.4" stroke="#d2d2d2" stroke-width="1" fill="none"/>
<text x="761.6" y="120.0" font-size="13.6" fill="#4C6A9C" font-family='"Liberation Sans", sans-serif' textLength="32.8" lengthAdjust="spacingAndGlyphs">50-59</text>
<text x="799" y="120.0" font-size="13.6" fill="#4C6A9C" font-family='"Liberation Sans", sans-serif' textLength="30" lengthAdjust="spacingAndGlyphs">years</text>
<text x="761.6" y="138.0" font-size="13.6" fill="#D73C50" font-family='"Liberation Sans", sans-serif' textLength="32.8" lengthAdjust="spacingAndGlyphs">60-69</text>
<text x="799" y="138.0" font-size="13.6" fill="#D73C50" font-family='"Liberation Sans", sans-serif' textLength="30" lengthAdjust="spacingAndGlyphs">years</text>
<text x="761.6" y="156.6" font-size="13.6" fill="#B13507" font-family='"Liberation Sans", sans-serif' textLength="32.8" lengthAdjust="spacingAndGlyphs">18-24</text>
<text x="799" y="156.6" font-size="13.6" fill="#B13507" font-family='"Liberation Sans", sans-serif' textLength="30" lengthAdjust="spacingAndGlyphs">years</text>
<text x="761.6" y="174.6" font-size="13.6" fill="#8C4569" font-family='"Liberation Sans", sans-serif' textLength="32.8" lengthAdjust="spacingAndGlyphs">70-79</text>
<text x="799" y="174.6" font-size="13.6" fill="#8C4569" font-family='"Liberation Sans", sans-serif' textLength="30" lengthAdjust="spacingAndGlyphs">years</text>
<text x="761.6" y="192.6" font-size="13.6" fill="#00847E" font-family='"Liberation Sans", sans-serif' textLength="32.8" lengthAdjust="spacingAndGlyphs">25-49</text>
<text x="799" y="192.6" font-size="13.6" fill="#00847E" font-family='"Liberation Sans", sans-serif' textLength="30" lengthAdjust="spacingAndGlyphs">years</text>
<text x="761.6" y="210.6" font-size="13.6" fill="#BC8E5A" font-family='"Liberation Sans", sans-serif' textLength="21.4" lengthAdjust="spacingAndGlyphs">80+</text>
<text x="787.4" y="210.6" font-size="13.6" fill="#BC8E5A" font-family='"Liberation Sans", sans-serif' textLength="29.5" lengthAdjust="spacingAndGlyphs">years</text>
<text x="761.6" y="393.5" font-size="13.6" fill="#38506F" font-family='"Liberation Sans", sans-serif' textLength="25" lengthAdjust="spacingAndGlyphs">0-17</text>
<text x="791.5" y="393.5" font-size="13.6" fill="#38506F" font-family='"Liberation Sans", sans-serif' textLength="30" lengthAdjust="spacingAndGlyphs">years</text>
<text y="36.8" font-size="23.0" fill="#363636" font-family='"Liberation Serif", serif' font-weight="bold"><tspan x="16.1" textLength="56.4" lengthAdjust="spacingAndGlyphs">Share</tspan> <tspan x="78.2" textLength="18.9" lengthAdjust="spacingAndGlyphs">of</tspan> <tspan x="102.3" textLength="64.7" lengthAdjust="spacingAndGlyphs">people</tspan> <tspan x="172.1" textLength="40.2" lengthAdjust="spacingAndGlyphs">who</tspan> <tspan x="218.7" textLength="101.7" lengthAdjust="spacingAndGlyphs">completed</tspan> <tspan x="326.1" textLength="30.5" lengthAdjust="spacingAndGlyphs">the</tspan> <tspan x="362.8" textLength="56.7" lengthAdjust="spacingAndGlyphs">initial</tspan> <tspan x="425.9" textLength="99.7" lengthAdjust="spacingAndGlyphs">COVID-19</tspan> <tspan x="529.9" textLength="112.8" lengthAdjust="spacingAndGlyphs">vaccination</tspan></text>
<text y="63.3" font-size="23.0" fill="#363636" font-family='"Liberation Serif", serif' font-weight="bold"><tspan x="16.1" textLength="82.4" lengthAdjust="spacingAndGlyphs">protocol</tspan> <tspan x="104.4" textLength="22.4" lengthAdjust="spacingAndGlyphs">by</tspan> <tspan x="131.6" textLength="39.1" lengthAdjust="spacingAndGlyphs">age,</tspan> <tspan x="176.1" textLength="67.2" lengthAdjust="spacingAndGlyphs">France</tspan></text>
<text y="88" font-size="14.3" fill="#606060" font-family='"Liberation Sans", sans-serif'><tspan x="16.0" textLength="36.7" lengthAdjust="spacingAndGlyphs">Share</tspan> <tspan x="56.5" textLength="113.3" lengthAdjust="spacingAndGlyphs">of the population</tspan> <tspan x="174.4" textLength="115.0" lengthAdjust="spacingAndGlyphs">in each age group</tspan> <tspan x="293.7" textLength="138.7" lengthAdjust="spacingAndGlyphs">that have received all</tspan> <tspan x="437.3" textLength="208.4" lengthAdjust="spacingAndGlyphs">prescribed doses of the vaccine.</tspan></text>
<rect x="769" y="16" width="65" height="36" fill="#002147"/><rect x="769" y="49" width="65" height="3" fill="#CE261E"/>
<text x="801.4" y="30.7" font-size="11.6" fill="#fff" font-family='"Liberation Sans", sans-serif' text-anchor="middle" textLength="55.0" lengthAdjust="spacingAndGlyphs" font-weight="bold">Our World</text>
<text x="801.7" y="42.8" font-size="11.6" fill="#fff" font-family='"Liberation Sans", sans-serif' text-anchor="middle" textLength="36.8" lengthAdjust="spacingAndGlyphs" font-weight="bold">in Data</text>
<text y="544.8" font-size="13" fill="#636363" font-family='"Liberation Sans", sans-serif' font-weight="bold"><tspan x="16.1" textLength="72.1" lengthAdjust="spacingAndGlyphs">Data source:</tspan></text>
<text y="544.8" font-size="13" fill="#636363" font-family='"Liberation Sans", sans-serif' word-spacing="0.8"><tspan x="92.8" textLength="132.0" lengthAdjust="spacingAndGlyphs">Official data collated by</tspan> <tspan x="230.7" textLength="143.3" lengthAdjust="spacingAndGlyphs">Our World in Data (2024)</tspan></text>
<text y="544.8" font-size="13" fill="#636363" font-family='"Liberation Sans", sans-serif'><tspan x="596.8" textLength="187.8" lengthAdjust="spacingAndGlyphs">OurWorldinData.org/coronavirus</tspan> <tspan x="789.4" textLength="1.8" lengthAdjust="spacingAndGlyphs">|</tspan> <tspan x="795.1" textLength="36.9" lengthAdjust="spacingAndGlyphs">CC BY</tspan></text>
<text y="565.3" font-size="13" fill="#636363" font-family='"Liberation Sans", sans-serif' font-weight="bold"><tspan x="16.1" textLength="32.6" lengthAdjust="spacingAndGlyphs">Note:</tspan></text>
<text y="565.3" font-size="13" fill="#636363" font-family='"Liberation Sans", sans-serif' word-spacing="0.8"><tspan x="52.5" textLength="173.2" lengthAdjust="spacingAndGlyphs">In some territories, vaccination</tspan> <tspan x="230.0" textLength="202.6" lengthAdjust="spacingAndGlyphs">coverage may include non-residents</tspan> <tspan x="436.8" textLength="211.8" lengthAdjust="spacingAndGlyphs">(such as tourists and foreign workers)</tspan> <tspan x="652.4" textLength="146.2" lengthAdjust="spacingAndGlyphs">so per-capita metrics may</tspan></text>
<text y="580.5" font-size="13" fill="#636363" font-family='"Liberation Sans", sans-serif' word-spacing="0.8"><tspan x="16.1" textLength="79.2" lengthAdjust="spacingAndGlyphs">exceed 100%.</tspan></text>
</svg></body></html>
